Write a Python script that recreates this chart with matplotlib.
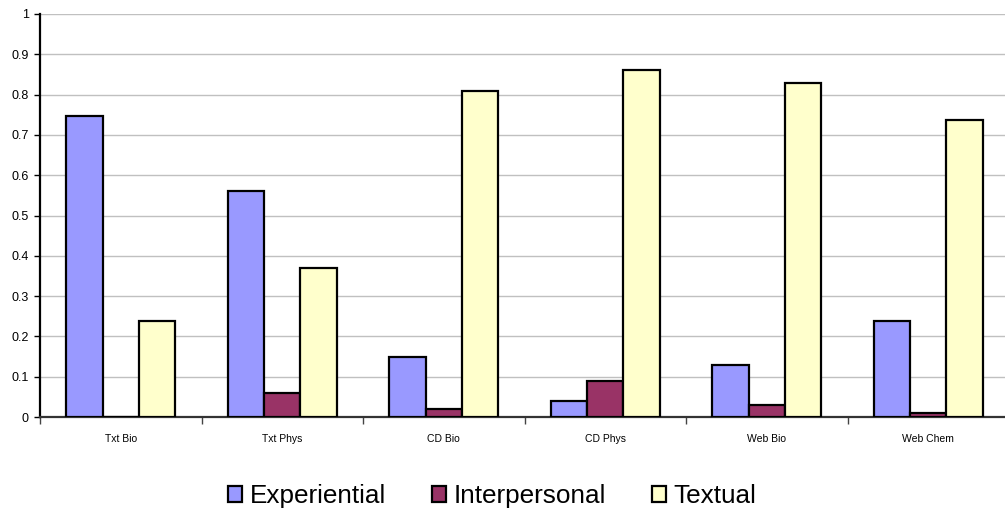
import numpy as np
import matplotlib.pyplot as plt
from matplotlib.ticker import FixedLocator

plt.rcParams['font.family'] = ['Liberation Sans', 'DejaVu Sans']

categories = ['Txt Bio', 'Txt Phys', 'CD Bio', 'CD Phys', 'Web Bio', 'Web Chem']
experiential = [0.748, 0.56, 0.15, 0.04, 0.13, 0.238]
interpersonal = [0.0, 0.06, 0.02, 0.09, 0.03, 0.01]
textual = [0.238, 0.37, 0.81, 0.86, 0.83, 0.737]
ytick_labels = ['0', '0.1', '0.2', '0.3', '0.4', '0.5', '0.6', '0.7', '0.8', '0.9', '1']

series = [('Experiential', experiential, '#9999ff'),
          ('Interpersonal', interpersonal, '#993366'),
          ('Textual', textual, '#ffffcc')]

fig = plt.figure(figsize=(10.05, 5.09), dpi=100)
W, H = 1005, 509
ax = fig.add_axes([40 / W, (H - 417) / H, (1009 - 40) / W, (417 - 14) / H])

x = np.arange(len(categories))
bw = 0.225
for i, (name, vals, col) in enumerate(series):
    ax.bar(x + (i - 1) * bw, vals, bw, color=col, edgecolor='black',
           linewidth=1.6, label=name, zorder=3)

ax.set_xlim(-0.5, len(categories) - 0.5)
ax.set_ylim(0, 1)
ax.set_yticks(np.arange(0, 1.01, 0.1))
ax.set_yticklabels(ytick_labels)
ax.grid(axis='y', color='#c0c0c0', linewidth=1, zorder=0)

# group separators as major ticks, names as minor labels
ax.xaxis.set_major_locator(FixedLocator(np.arange(-0.5, len(categories), 1.0)))
ax.xaxis.set_minor_locator(FixedLocator(x))
ax.set_xticklabels([])
ax.set_xticklabels(categories, minor=True)
ax.tick_params(axis='x', which='major', length=5, width=1, direction='out', color='#444444')
ax.tick_params(axis='x', which='minor', length=0, pad=12, labelsize=7.5)
ax.tick_params(axis='y', length=4, width=1, labelsize=9, pad=4)

for s in ['top', 'right']:
    ax.spines[s].set_visible(False)
ax.spines['left'].set_linewidth(1.6)
ax.spines['bottom'].set_linewidth(1.6)
ax.spines['bottom'].set_color('#333333')

fig.legend(loc='center', bbox_to_anchor=(492 / W, (H - 496) / H), ncol=3, frameon=False,
           fontsize=18.8, handlelength=0.54, handleheight=0.54, handletextpad=0.3,
           columnspacing=1.75)

fig.savefig('out.png', dpi=100)
